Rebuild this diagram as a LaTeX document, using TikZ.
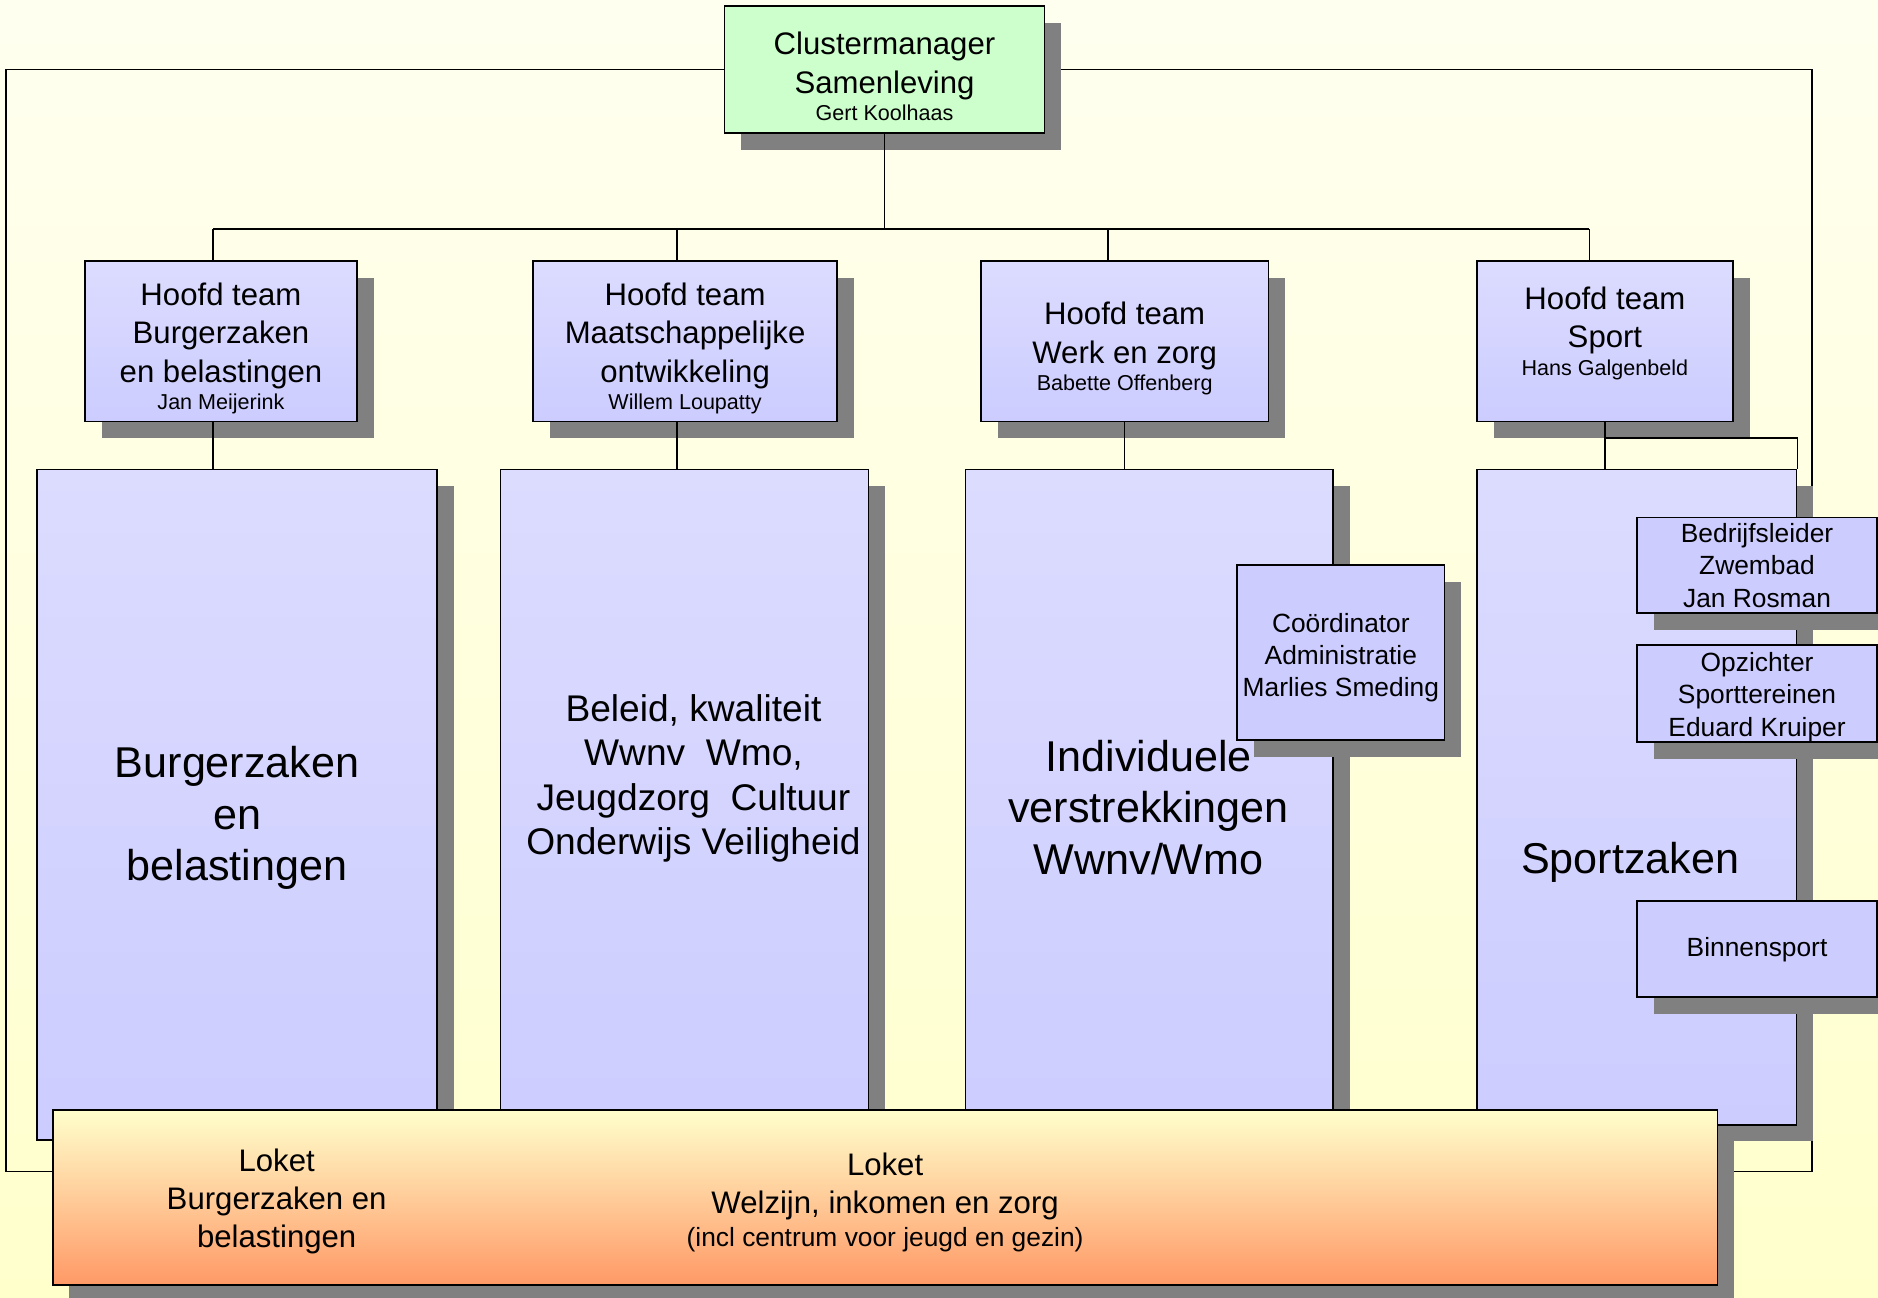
\documentclass[tikz,border=0pt]{standalone}
\usepackage{fontspec}
\setmainfont{Liberation Sans}
\usetikzlibrary{shadows}
\definecolor{lila}{HTML}{CCCCFF}
\definecolor{lilatop}{HTML}{DCDCFF}
\definecolor{mint}{HTML}{CCFFCC}
\definecolor{geel}{HTML}{FFFFCC}
\definecolor{oranje}{HTML}{FF9966}
\definecolor{schaduw}{HTML}{808080}
\newcommand{\omlaag}{\rule{0pt}{15.5pt}}
\begin{document}
\begin{tikzpicture}[x = .5pt, y = -.5pt,
	box/.style = {draw, line width = .7pt, inner sep = 0pt, align = center, general shadow = {fill = schaduw, shadow xshift = 7pt, shadow yshift = -7pt}},
	paars/.style = {box, top color = lilatop, bottom color = lila},
	hoofd/.style = {paars, minimum height = 67pt, font = \fontsize{13}{16}\selectfont},
	klein/.style = {box, fill = lila, font = \fontsize{11}{13.5}\selectfont},
	groot/.style = {align = center, font = \fontsize{18}{21.5}\selectfont},
	tekst/.style = {align = center, font = \fontsize{13}{16}\selectfont},
	lijn/.style = {line width = .7pt}]
	\useasboundingbox (0,0) rectangle (1568,1083);
	\shade[top color = white!70!geel, bottom color = geel] (0,0) rectangle (1568,1083); %background
	\draw[lijn] (5,58) rectangle (1513,978); %frame
	
	\node[box, fill = mint, minimum width = 133.5pt, minimum height = 53pt, font = \fontsize{13}{16}\selectfont] (cm) at (738.5,58) {\omlaag Clustermanager\\Samenleving\\[-4.5pt]{\fontsize{9}{11}\selectfont Gert Koolhaas}};
	
	\node[hoofd, minimum width = 113.5pt] (t1) at (184.5,285) {\omlaag Hoofd team\\Burgerzaken\\en belastingen\\[-4.5pt]{\fontsize{9}{11}\selectfont Jan Meijerink}};
	\node[hoofd, minimum width = 127pt] (t2) at (572,285) {\omlaag Hoofd team\\Maatschappelijke\\ontwikkeling\\[-4.5pt]{\fontsize{9}{11}\selectfont Willem Loupatty}};
	\node[hoofd, minimum width = 120pt] (t3) at (939,285) {\omlaag Hoofd team\\Werk en zorg\\[-4.5pt]{\fontsize{9}{11}\selectfont Babette Offenberg}};
	\node[hoofd, minimum width = 107pt] (t4) at (1340,285) {Hoofd team\\Sport\\[-4.5pt]{\fontsize{9}{11}\selectfont Hans Galgenbeld\rule[-8.5pt]{0pt}{0pt}}};
	
	\node[paars, minimum width = 167pt, minimum height = 280pt] (g1) at (198,672) {};
	\node[paars, minimum width = 153.5pt, minimum height = 280pt] (g2) at (571.5,672) {};
	\node[paars, minimum width = 153.5pt, minimum height = 280pt] (g3) at (959.5,672) {};
	\node[paars, minimum width = 133.5pt, minimum height = 273.5pt] (g4) at (1366.5,665.5) {};
	
	\node[klein, minimum width = 86.5pt, minimum height = 73pt] (co) at (1119.5,545) {\rule{0pt}{12pt}Coördinator\\Administratie\\Marlies Smeding};
	\node[klein, minimum width = 100pt, minimum height = 40pt] (z1) at (1467,472) {Bedrijfsleider\\Zwembad\\Jan Rosman};
	\node[klein, minimum width = 100pt, minimum height = 40pt] (z2) at (1467,579) {\rule{0pt}{11pt}Opzichter\\Sporttereinen\\Eduard Kruiper};
	\node[klein, minimum width = 100pt, minimum height = 40pt] (z3) at (1467,792.5) {Binnensport};
	
	\node[groot] (g1t) at (198,683) {Burgerzaken\\en\\belastingen};
	\node[align = center, font = \fontsize{15.5}{18.5}\selectfont] (g2t) at (579,650) {Beleid, kwaliteit\\Wwnv\ \ Wmo,\\Jeugdzorg\ \ Cultuur\\Onderwijs Veiligheid};
	\node[groot] (g3t) at (959,674) {Individuele\\verstrekkingen\\Wwnv/Wmo};
	\node[groot] (g4t) at (1361,720) {Sportzaken};
	
	\node[box, top color = geel, bottom color = oranje, minimum width = 695pt, minimum height = 73pt] (lk) at (739,1000) {};
	\node[tekst] (lk1) at (231,1003) {Loket\\Burgerzaken en\\belastingen};
	\node[tekst] (lk2) at (739,1004) {Loket\\Welzijn, inkomen en zorg\\[-2pt]{\fontsize{11}{13}\selectfont (incl centrum voor jeugd en gezin)}};
	
	\coordinate (bus) at (738.5,191);
	\coordinate (b1) at (178,191);
	\coordinate (b2) at (565,191);
	\coordinate (b3) at (925,191);
	\coordinate (b4) at (1327,191);
	\draw[lijn] (cm) -- (bus);
	\draw[lijn] (b1) -- (b4);
	\foreach \i in {1,...,4}
		\draw[lijn] (b\i) -- (b\i |- t\i.north);
	\draw[lijn] (b1 |- t1.south) -- (b1 |- g1.north);
	\draw[lijn] (b2 |- t2.south) -- (b2 |- g2.north);
	\draw[lijn] (t3.south) -- (t3.south |- g3.north);
	\draw[lijn] (t4.south) -- (t4.south |- g4.north);
	\draw[lijn] ([yshift = -6.5pt]t4.south) -| (g4.north east);
\end{tikzpicture}
\end{document}
